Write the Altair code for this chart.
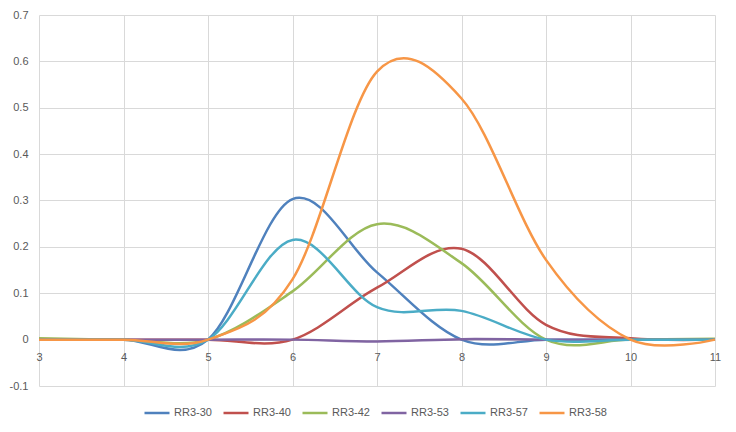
import altair as alt
import pandas as pd

x_vals = [3, 4, 5, 6, 7, 8, 9, 10, 11]
rr3_30 = [0.0, 0.0, 0.0, 0.303, 0.145, 0.0, 0.0, 0.0, 0.0]
rr3_40 = [0.0, 0.0, 0.0, 0.0, 0.112, 0.196, 0.032, 0.003, 0.0]
rr3_42 = [0.003, 0.0, 0.0, 0.104, 0.249, 0.165, 0.0, 0.0, 0.002]
rr3_53 = [0.0, 0.0, 0.0, 0.0, -0.004, 0.001, 0.0, 0.0, 0.0]
rr3_57 = [0.0, 0.0, 0.0, 0.215, 0.07, 0.062, 0.0, 0.0, 0.0]
rr3_58 = [0.0, 0.0, 0.0, 0.13, 0.578, 0.52, 0.172, 0.0, 0.0]

series_names = ["RR3-30", "RR3-40", "RR3-42", "RR3-53", "RR3-57", "RR3-58"]
series_vals = [rr3_30, rr3_40, rr3_42, rr3_53, rr3_57, rr3_58]
colors = ["#4F81BD", "#C0504D", "#9BBB59", "#8064A2", "#4BACC6", "#F79646"]

x_ticks = [3, 4, 5, 6, 7, 8, 9, 10, 11]
y_ticks = [-0.1, 0.0, 0.1, 0.2, 0.3, 0.4, 0.5, 0.6, 0.7]

rows = []
for name, vals in zip(series_names, series_vals):
    for xv, yv in zip(x_vals, vals):
        rows.append({"x": xv, "y": yv, "series": name})
df = pd.DataFrame(rows)

FONT = "Liberation Sans"
GRID = "#d9d9d9"
TXT = "#595959"

chart = alt.Chart(df).mark_line(
    interpolate="cardinal", strokeWidth=2.5
).encode(
    x=alt.X("x:Q",
            scale=alt.Scale(domain=[3, 11], nice=False, zero=False),
            axis=alt.Axis(values=x_ticks, title=None, grid=True, gridColor=GRID,
                          domain=False, ticks=False, labelPadding=11,
                          offset=-46, labelFont=FONT, labelFontSize=11,
                          labelColor=TXT, labelFlush=False)),
    y=alt.Y("y:Q",
            scale=alt.Scale(domain=[-0.1, 0.7], nice=False, zero=False),
            axis=alt.Axis(values=y_ticks, title=None, grid=True, gridColor=GRID,
                          domain=False, ticks=False, labelPadding=11,
                          labelFont=FONT, labelFontSize=11, labelColor=TXT,
                          labelExpr="replace(format(datum.value, '.1~f'), '\u2212', '-')")),
    color=alt.Color("series:N",
                    scale=alt.Scale(domain=series_names, range=colors),
                    legend=alt.Legend(title=None, orient="none", direction="horizontal",
                                      legendX=104, legendY=384,
                                      symbolType="stroke", symbolSize=625,
                                      symbolStrokeWidth=2.5, labelFont=FONT,
                                      labelFontSize=11, labelColor=TXT,
                                      labelOffset=3, columnPadding=6)),
).properties(
    width=676, height=371,
    padding={"left": 39, "top": 15, "right": 21, "bottom": 46},
    autosize=alt.AutoSizeParams(type="none"),
    background="white",
).configure_view(stroke=None)

chart.save("out.html", embed_options={"renderer": "svg", "actions": False})
